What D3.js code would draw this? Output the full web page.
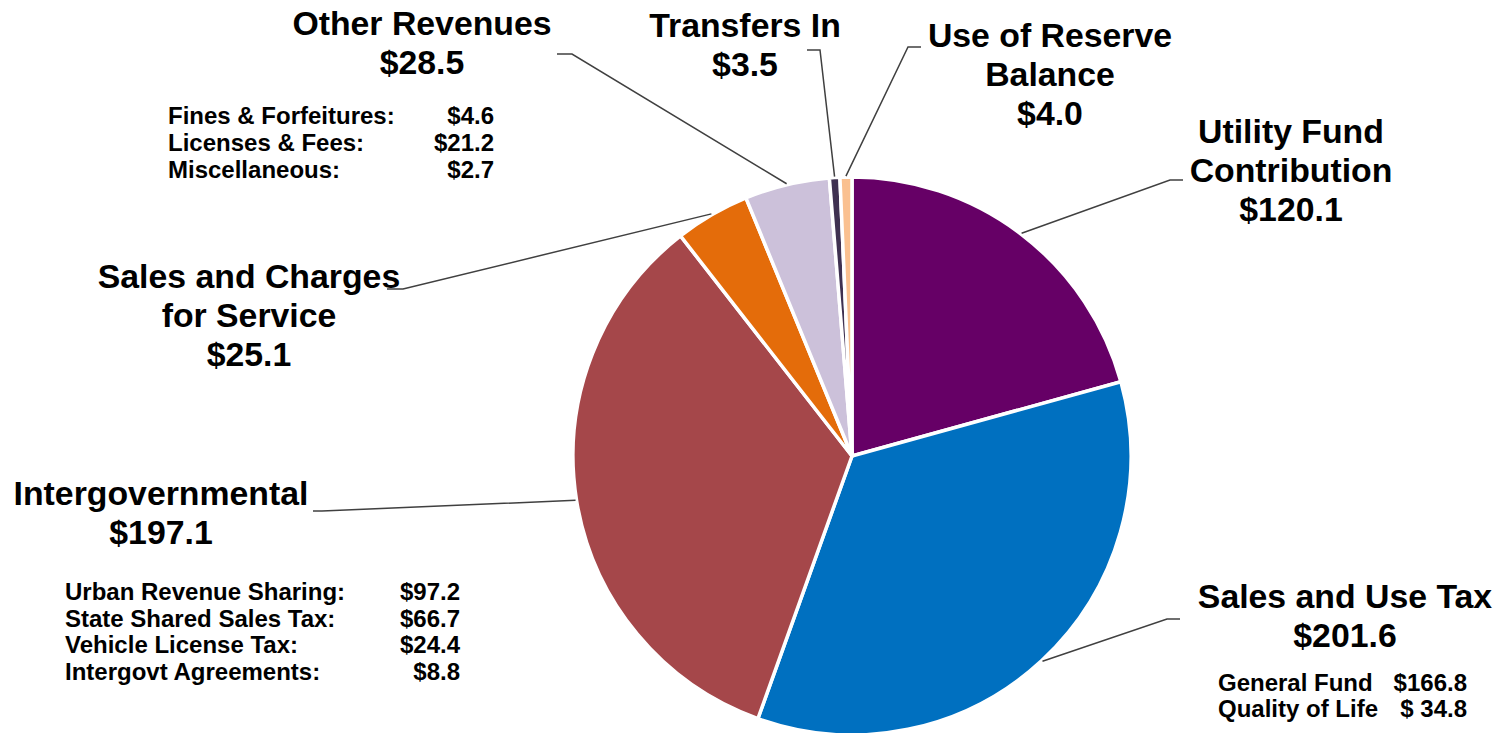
<!DOCTYPE html>
<html>
<head>
<meta charset="utf-8">
<script src="https://cdn.jsdelivr.net/npm/d3@7"></script>
<style>
  html, body { margin: 0; padding: 0; background: #fff; }
  svg text { font-family: "Liberation Sans", Arial, sans-serif; font-weight: bold; fill: #000; white-space: pre; }
</style>
</head>
<body>
<div id="chart"></div>
<script>
// revenue sources (millions), clockwise from 12 o'clock
var categories = ["Utility Fund Contribution", "Sales and Use Tax", "Intergovernmental", "Sales and Charges for Service", "Other Revenues", "Transfers In", "Use of Reserve Balance"];
var values = [120.1, 201.6, 197.1, 25.1, 28.5, 3.5, 4.0];
var colors = ["#660066", "#0070C0", "#A5474A", "#E46C0A", "#CCC1DA", "#3F3151", "#FAC090"];

// label text split into lines
var labelLines = [
  ["Utility Fund", "Contribution"],
  ["Sales and Use Tax"],
  ["Intergovernmental"],
  ["Sales and Charges", "for Service"],
  ["Other Revenues"],
  ["Transfers In"],
  ["Use of Reserve", "Balance"]
];

// breakdown tables
var otherDetailNames = ["Fines & Forfeitures:", "Licenses & Fees:", "Miscellaneous:"];
var otherDetailValues = ["$4.6", "$21.2", "$2.7"];
var intergovDetailNames = ["Urban Revenue Sharing:", "State Shared Sales Tax:", "Vehicle License Tax:", "Intergovt Agreements:"];
var intergovDetailValues = ["$97.2", "$66.7", "$24.4", "$8.8"];
var salesTaxDetailNames = ["General Fund", "Quality of Life"];
var salesTaxDetailValues = ["$166.8", "$ 34.8"];

var W = 1502, H = 733;
var cx = 852, cy = 456, R = 279;

// label layout: centre x, first baseline, leader elbow and end
var layout = [
  {x: 1291, y: 143, elbow: [1170, 180], end: [1183, 180]},
  {x: 1345, y: 608, elbow: [1167, 619], end: [1180, 619]},
  {x: 161,  y: 505, elbow: [322, 511], end: [313, 511]},
  {x: 249,  y: 288, elbow: [403, 289], end: [387, 289]},
  {x: 422,  y: 35,  elbow: [572, 54], end: [557, 54]},
  {x: 745,  y: 37,  elbow: [820, 50], end: [807, 50]},
  {x: 1050, y: 47,  elbow: [908, 47], end: [921, 47]}
];

var svg = d3.select("#chart").append("svg")
  .attr("width", W).attr("height", H);

var pie = d3.pie().sort(null).value(function(d){ return d; });
var arcs = pie(values);
var arc = d3.arc().innerRadius(0).outerRadius(R);

var g = svg.append("g").attr("transform", "translate(" + cx + "," + cy + ")");
g.selectAll("path.slice").data(arcs).enter().append("path")
  .attr("class", "slice")
  .attr("d", arc)
  .attr("fill", function(d, i){ return colors[i]; })
  .attr("stroke", "#fff")
  .attr("stroke-width", 3.5)
  .attr("stroke-linejoin", "round");

// leader lines: start on the rim at the slice's middle angle
var fmt = d3.format(".1f");
svg.selectAll("polyline.leader").data(arcs).enter().append("polyline")
  .attr("class", "leader")
  .attr("points", function(d, i){
    var a = (d.startAngle + d.endAngle) / 2;
    var p0 = [cx + (R + 1) * Math.sin(a), cy - (R + 1) * Math.cos(a)];
    return [p0, layout[i].elbow, layout[i].end].map(function(p){ return p.join(","); }).join(" ");
  })
  .attr("fill", "none")
  .attr("stroke", "#404040")
  .attr("stroke-width", 1.5);

// main labels
var lineH = 39;
arcs.forEach(function(d, i){
  var L = layout[i];
  var lines = labelLines[i].concat(["$" + fmt(values[i])]);
  var t = svg.append("text")
    .attr("text-anchor", "middle")
    .style("font-size", "33.8px");
  lines.forEach(function(s, k){
    t.append("tspan").attr("x", L.x).attr("y", L.y + k * lineH).text(s);
  });
});

// detail tables
function detail(names, vals, x0, x1, y0, step){
  names.forEach(function(n, k){
    svg.append("text").attr("x", x0).attr("y", y0 + k * step)
      .style("font-size", "24px").text(n);
    svg.append("text").attr("x", x1).attr("y", y0 + k * step)
      .attr("text-anchor", "end")
      .style("font-size", "24px").text(vals[k]);
  });
}
detail(otherDetailNames, otherDetailValues, 168, 494, 124, 27);
detail(intergovDetailNames, intergovDetailValues, 65, 460, 600, 26.7);
detail(salesTaxDetailNames, salesTaxDetailValues, 1218, 1467, 691, 26);
</script>
</body>
</html>
